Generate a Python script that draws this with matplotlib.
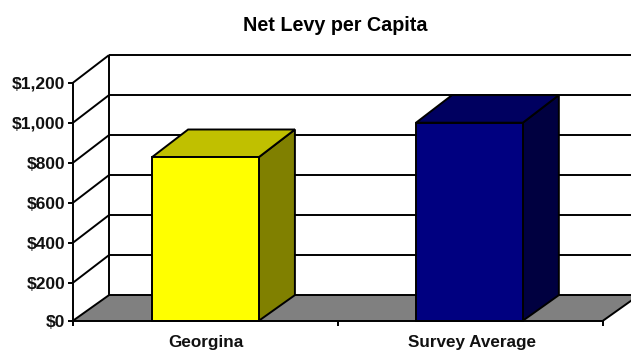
import matplotlib
matplotlib.use("Agg")
import matplotlib.pyplot as plt
from matplotlib.patches import Polygon

plt.rcParams['font.family'] = ['Liberation Sans', 'DejaVu Sans']

title = "Net Levy per Capita"
categories = ["Georgina", "Survey Average"]
values = [828, 1000]
bar_faces = ["#FFFF00", "#000080"]
bar_tops = ["#C0C000", "#000060"]
bar_sides = ["#808000", "#000040"]
y_levels = [200, 400, 600, 800, 1000, 1200]
y_labels = ["$0", "$200", "$400", "$600", "$800", "$1,000", "$1,200"]

W, H = 631, 352
LW = 1.4
fig = plt.figure(figsize=(W / 100, H / 100), dpi=100, facecolor="white")
ax = fig.add_axes([73 / W, (H - 320.7) / H, 530 / W, 238 / H])
base = 10            # floor's front edge on the value scale
ax.set_xlim(0, len(categories))
ax.set_ylim(base, 1200)
ax.patch.set_visible(False)
for s in ("top", "right"):
    ax.spines[s].set_visible(False)
for s in ("left", "bottom"):
    ax.spines[s].set_linewidth(LW)
    ax.spines[s].set_zorder(6)

dx = 36 / 265        # depth offset, category units
dy = 138             # depth offset, value units
bar_w = 0.403
kw = dict(color="black", lw=LW, clip_on=False, solid_capstyle="butt")

# floor
ax.add_patch(Polygon([(0, base), (2, base), (2 + dx, dy), (dx, dy)], closed=True,
                     fc="#808080", ec="none", clip_on=False, zorder=1))
# back wall grid lines and side wall diagonals
for lv in [0] + y_levels:
    ax.plot([dx, 2 + dx], [lv + dy, lv + dy], zorder=2, **kw)
    ax.plot([0, dx], [max(lv, base), lv + dy], zorder=2, **kw)
ax.plot([dx, dx], [dy, 1200 + dy], zorder=2, **kw)
ax.plot([2, 2 + dx], [base, dy], zorder=2, **kw)

# bars
for i, (v, f, t, s) in enumerate(zip(values, bar_faces, bar_tops, bar_sides)):
    c = 0.5 + i * 0.996
    l, r = c - bar_w / 2, c + bar_w / 2
    ax.add_patch(Polygon([(r, base), (r + dx, dy), (r + dx, v + dy), (r, v)], closed=True,
                         fc=s, ec="black", lw=LW, clip_on=False, zorder=3, joinstyle="miter"))
    ax.add_patch(Polygon([(l, v), (r, v), (r + dx, v + dy), (l + dx, v + dy)], closed=True,
                         fc=t, ec="black", lw=LW, clip_on=False, zorder=3, joinstyle="miter"))
    ax.add_patch(Polygon([(l, base), (r, base), (r, v), (l, v)], closed=True,
                         fc=f, ec="black", lw=LW, clip_on=False, zorder=4, joinstyle="miter"))

ax.set_yticks([base] + y_levels)
ax.set_yticklabels(y_labels, fontsize=12.5, fontweight="bold", color="#111111")
ax.tick_params(axis="y", length=3.6, width=LW, pad=2)
ax.set_xticks([0, 1, 2])
ax.set_xticklabels([])
ax.tick_params(axis="x", which="major", length=3.4, width=LW)
ax.set_xticks([0.502, 1.507], minor=True)
ax.set_xticklabels(categories, minor=True, fontsize=12.3, fontweight="bold", color="#111111")
ax.tick_params(axis="x", which="minor", length=0, pad=10)

fig.text(335.5 / W, 1 - 25.5 / H, title, ha="center", va="center",
         fontsize=14.2, fontweight="bold", color="black")
fig.savefig("out.png", dpi=100)
